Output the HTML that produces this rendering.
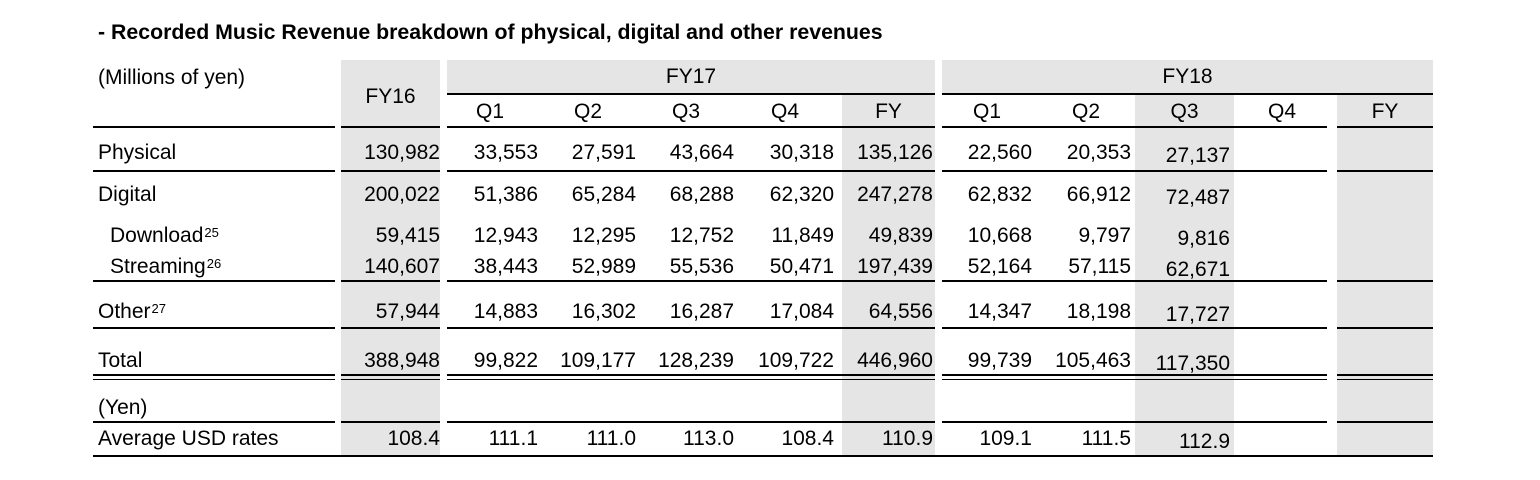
<!DOCTYPE html>
<html><head><meta charset="utf-8"><style>
body{margin:0;background:#fff;width:1540px;height:480px;position:relative;overflow:hidden;font-family:"Liberation Sans",Arial,sans-serif;color:#000}
.s{position:absolute;background:#e6e5e6}
.l{position:absolute;height:2px;background:#000}
.t{position:absolute;font-size:21px;line-height:20px;white-space:nowrap}
.r{text-align:right;width:120px}
.c{text-align:center;width:100px}
sup{font-size:13px;position:relative;top:-3px;vertical-align:top;margin-left:1px}
</style></head><body>
<div class="t" style="left:98px;top:22px;font-size:21.3px;font-weight:bold">- Recorded Music Revenue breakdown of physical, digital and other revenues</div>

<div class="s" style="left:341px;top:60px;width:99px;height:396px"></div>
<div class="s" style="left:447px;top:60px;width:488px;height:34px"></div>
<div class="s" style="left:842px;top:94px;width:93px;height:362px"></div>
<div class="s" style="left:942px;top:60px;width:491px;height:34px"></div>
<div class="s" style="left:1135px;top:94px;width:99px;height:362px"></div>
<div class="s" style="left:1337px;top:94px;width:96px;height:362px"></div>

<div class="l" style="left:447px;top:93px;width:488px"></div>
<div class="l" style="left:942px;top:93px;width:491px"></div>

<div class="l" style="left:93px;top:126px;width:242px"></div>
<div class="l" style="left:341px;top:126px;width:99px"></div>
<div class="l" style="left:447px;top:126px;width:488px"></div>
<div class="l" style="left:942px;top:126px;width:385px"></div>
<div class="l" style="left:1337px;top:126px;width:96px"></div>

<div class="l" style="left:93px;top:170px;width:242px"></div>
<div class="l" style="left:341px;top:170px;width:99px"></div>
<div class="l" style="left:447px;top:170px;width:488px"></div>
<div class="l" style="left:942px;top:170px;width:385px"></div>
<div class="l" style="left:1337px;top:170px;width:96px"></div>

<div class="l" style="left:93px;top:280px;width:242px"></div>
<div class="l" style="left:341px;top:280px;width:99px"></div>
<div class="l" style="left:447px;top:280px;width:488px"></div>
<div class="l" style="left:942px;top:280px;width:385px"></div>
<div class="l" style="left:1337px;top:280px;width:96px"></div>

<div class="l" style="left:93px;top:327px;width:242px"></div>
<div class="l" style="left:341px;top:327px;width:99px"></div>
<div class="l" style="left:447px;top:327px;width:488px"></div>
<div class="l" style="left:942px;top:327px;width:385px"></div>
<div class="l" style="left:1337px;top:327px;width:96px"></div>

<div class="l" style="left:93px;top:374px;width:242px"></div>
<div class="l" style="left:341px;top:374px;width:99px"></div>
<div class="l" style="left:447px;top:374px;width:488px"></div>
<div class="l" style="left:942px;top:374px;width:385px"></div>
<div class="l" style="left:1337px;top:374px;width:96px"></div>
<div class="l" style="left:93px;top:379px;width:242px;height:1px"></div>
<div class="l" style="left:341px;top:379px;width:99px;height:1px"></div>
<div class="l" style="left:447px;top:379px;width:488px;height:1px"></div>
<div class="l" style="left:942px;top:379px;width:385px;height:1px"></div>
<div class="l" style="left:1337px;top:379px;width:96px;height:1px"></div>

<div class="l" style="left:93px;top:421px;width:242px"></div>
<div class="l" style="left:341px;top:421px;width:99px"></div>
<div class="l" style="left:447px;top:421px;width:488px"></div>
<div class="l" style="left:942px;top:421px;width:385px"></div>
<div class="l" style="left:1337px;top:421px;width:96px"></div>

<div class="l" style="left:93px;top:455px;width:1340px"></div>

<div class="t" style="left:98px;top:68px">(Millions of yen)</div>
<div class="t c" style="left:341px;top:87px;width:99px">FY16</div>
<div class="t c" style="left:447px;top:67px;width:488px">FY17</div>
<div class="t c" style="left:942px;top:67px;width:491px">FY18</div>
<div class="t c" style="left:440px;top:102px">Q1</div>
<div class="t c" style="left:538px;top:102px">Q2</div>
<div class="t c" style="left:636px;top:102px">Q3</div>
<div class="t c" style="left:735px;top:102px">Q4</div>
<div class="t c" style="left:842px;top:102px;width:93px">FY</div>
<div class="t c" style="left:937px;top:102px">Q1</div>
<div class="t c" style="left:1036px;top:102px">Q2</div>
<div class="t c" style="left:1135px;top:102px;width:99px">Q3</div>
<div class="t c" style="left:1232px;top:102px">Q4</div>
<div class="t c" style="left:1337px;top:102px;width:96px">FY</div>

<div class="t" style="left:98px;top:143px">Physical</div>
<div class="t" style="left:98px;top:185px">Digital</div>
<div class="t" style="left:110px;top:226px">Download<sup>25</sup></div>
<div class="t" style="left:110px;top:257px">Streaming<sup>26</sup></div>
<div class="t" style="left:98px;top:302px">Other<sup>27</sup></div>
<div class="t" style="left:98px;top:351px">Total</div>
<div class="t" style="left:98px;top:398px">(Yen)</div>
<div class="t" style="left:98px;top:429px">Average USD rates</div>

<div class="t r" style="left:320px;top:143px">130,982</div><div class="t r" style="left:418px;top:143px">33,553</div><div class="t r" style="left:516px;top:143px">27,591</div><div class="t r" style="left:614px;top:143px">43,664</div><div class="t r" style="left:714px;top:143px">30,318</div><div class="t r" style="left:813px;top:143px">135,126</div><div class="t r" style="left:912px;top:143px">22,560</div><div class="t r" style="left:1011px;top:143px">20,353</div><div class="t r" style="left:1110px;top:146px">27,137</div>

<div class="t r" style="left:320px;top:185px">200,022</div><div class="t r" style="left:418px;top:185px">51,386</div><div class="t r" style="left:516px;top:185px">65,284</div><div class="t r" style="left:614px;top:185px">68,288</div><div class="t r" style="left:714px;top:185px">62,320</div><div class="t r" style="left:813px;top:185px">247,278</div><div class="t r" style="left:912px;top:185px">62,832</div><div class="t r" style="left:1011px;top:185px">66,912</div><div class="t r" style="left:1110px;top:188px">72,487</div>

<div class="t r" style="left:320px;top:226px">59,415</div><div class="t r" style="left:418px;top:226px">12,943</div><div class="t r" style="left:516px;top:226px">12,295</div><div class="t r" style="left:614px;top:226px">12,752</div><div class="t r" style="left:714px;top:226px">11,849</div><div class="t r" style="left:813px;top:226px">49,839</div><div class="t r" style="left:912px;top:226px">10,668</div><div class="t r" style="left:1011px;top:226px">9,797</div><div class="t r" style="left:1110px;top:229px">9,816</div>

<div class="t r" style="left:320px;top:257px">140,607</div><div class="t r" style="left:418px;top:257px">38,443</div><div class="t r" style="left:516px;top:257px">52,989</div><div class="t r" style="left:614px;top:257px">55,536</div><div class="t r" style="left:714px;top:257px">50,471</div><div class="t r" style="left:813px;top:257px">197,439</div><div class="t r" style="left:912px;top:257px">52,164</div><div class="t r" style="left:1011px;top:257px">57,115</div><div class="t r" style="left:1110px;top:260px">62,671</div>

<div class="t r" style="left:320px;top:302px">57,944</div><div class="t r" style="left:418px;top:302px">14,883</div><div class="t r" style="left:516px;top:302px">16,302</div><div class="t r" style="left:614px;top:302px">16,287</div><div class="t r" style="left:714px;top:302px">17,084</div><div class="t r" style="left:813px;top:302px">64,556</div><div class="t r" style="left:912px;top:302px">14,347</div><div class="t r" style="left:1011px;top:302px">18,198</div><div class="t r" style="left:1110px;top:305px">17,727</div>

<div class="t r" style="left:320px;top:351px">388,948</div><div class="t r" style="left:418px;top:351px">99,822</div><div class="t r" style="left:516px;top:351px">109,177</div><div class="t r" style="left:614px;top:351px">128,239</div><div class="t r" style="left:714px;top:351px">109,722</div><div class="t r" style="left:813px;top:351px">446,960</div><div class="t r" style="left:912px;top:351px">99,739</div><div class="t r" style="left:1011px;top:351px">105,463</div><div class="t r" style="left:1110px;top:354px">117,350</div>

<div class="t r" style="left:320px;top:429px">108.4</div><div class="t r" style="left:418px;top:429px">111.1</div><div class="t r" style="left:516px;top:429px">111.0</div><div class="t r" style="left:614px;top:429px">113.0</div><div class="t r" style="left:714px;top:429px">108.4</div><div class="t r" style="left:813px;top:429px">110.9</div><div class="t r" style="left:912px;top:429px">109.1</div><div class="t r" style="left:1011px;top:429px">111.5</div><div class="t r" style="left:1110px;top:432px">112.9</div>
</body></html>
